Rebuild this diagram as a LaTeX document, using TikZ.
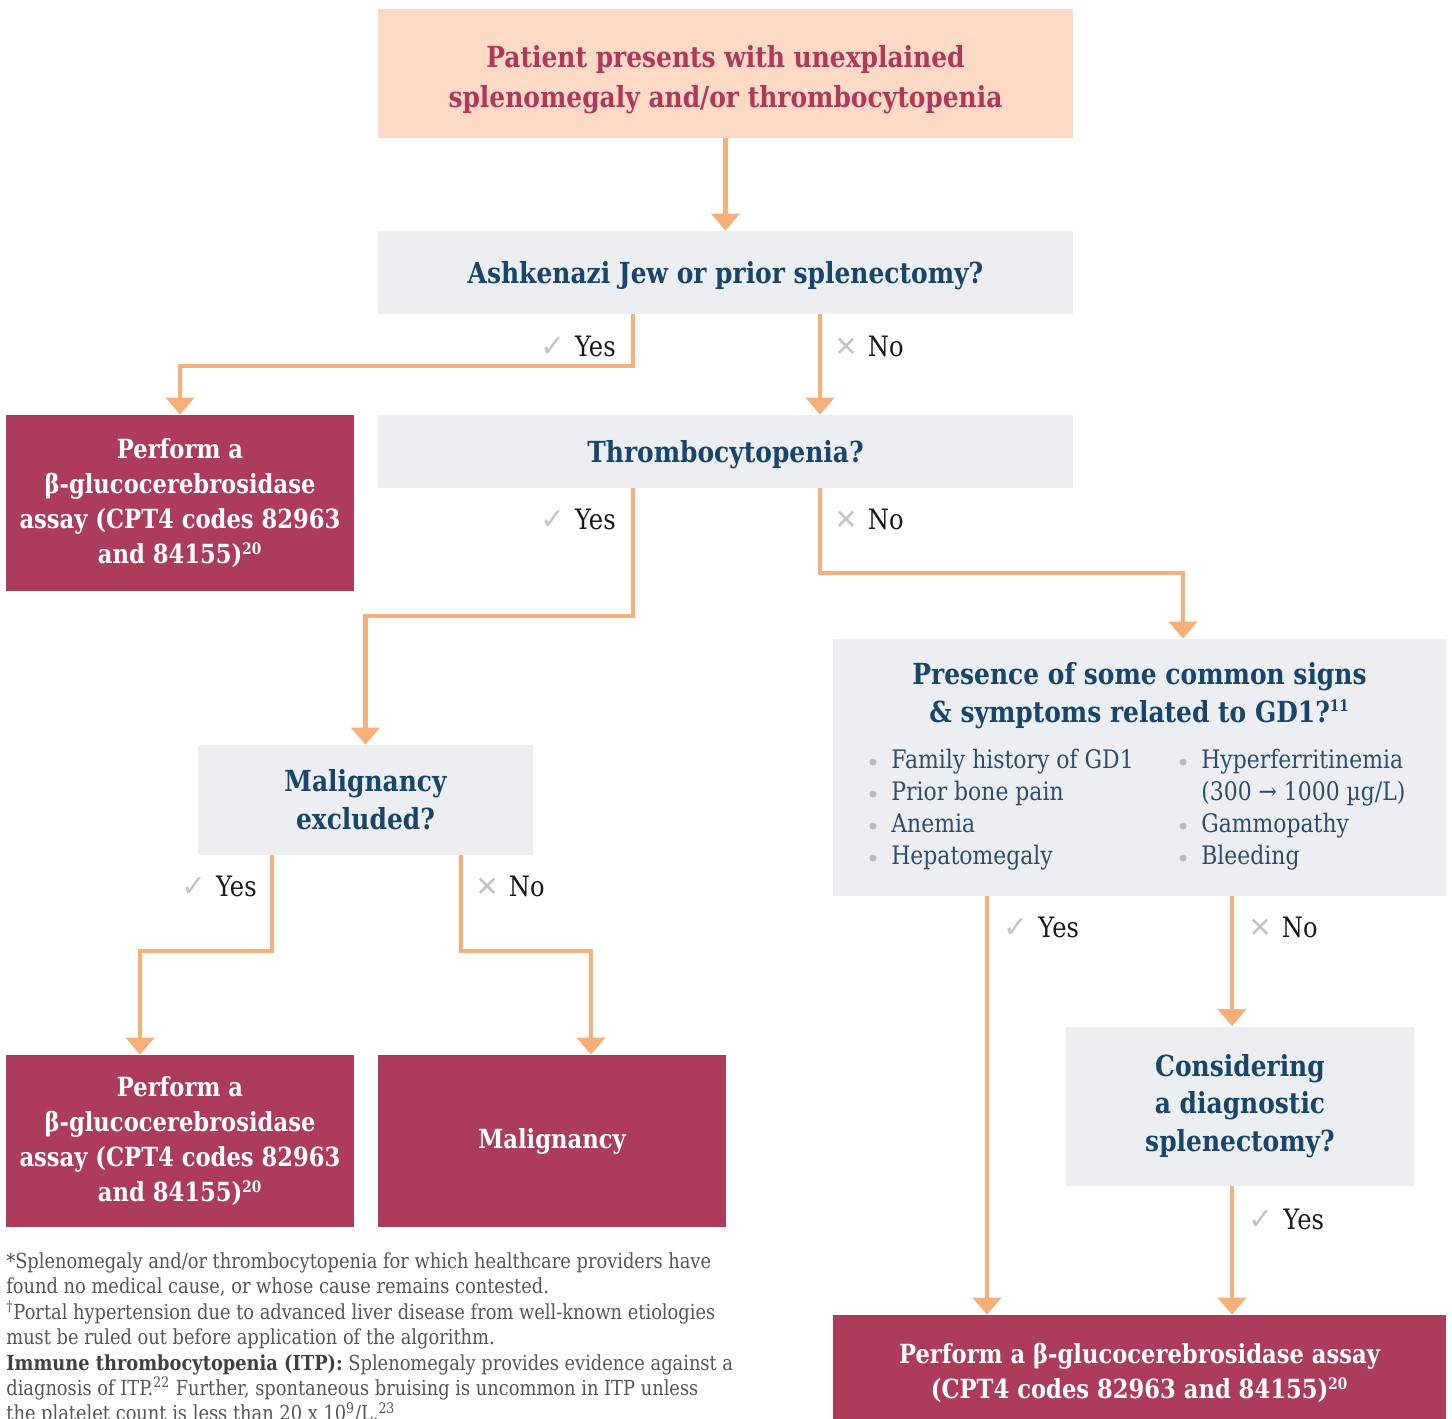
\documentclass[tikz,border=0pt]{standalone}
\usepackage{fontspec}
\setmainfont[FakeStretch=0.86]{DejaVu Serif}
\newfontfamily\symf{DejaVu Sans}
\usetikzlibrary{arrows.meta,positioning,calc}
\definecolor{peach}{HTML}{FCDAC6}
\definecolor{crimson}{HTML}{B0395B}
\definecolor{qgray}{HTML}{ECEEF2}
\definecolor{qblue}{HTML}{17466A}
\definecolor{listblue}{HTML}{2E4D6B}
\definecolor{rred}{HTML}{AD3B5C}
\definecolor{arrowc}{HTML}{F8B07A}
\definecolor{markgray}{HTML}{C4C4C4}
\definecolor{bulletc}{HTML}{B3B9C6}
\definecolor{footgray}{HTML}{555555}
\tikzset{
  flow/.style={draw=arrowc, line width=2.8pt, -{Triangle[width=0.56cm,length=0.34cm]}},
  box/.style={inner sep=0pt, align=center, draw=none},
  qbox/.style={box, fill=qgray, text=qblue, font=\fontsize{16.5}{21.5}\selectfont\bfseries},
  rbox/.style={box, fill=rred, text=white, font=\fontsize{15}{20}\selectfont\bfseries},
  ans/.style={inner sep=0pt, text=black!90, font=\fontsize{16}{19}\selectfont},
  item/.style={inner sep=0pt, text=listblue, font=\fontsize{14.5}{18}\selectfont},
  foot/.style={inner sep=0pt, align=left, text=footgray, font=\fontsize{11.8}{14.5}\selectfont},
}
\newcommand{\yesmark}{{\symf\color{markgray}\fontsize{17}{17}\selectfont ✓}\hspace{0.2cm}Yes}
\newcommand{\nomark}{{\symf\color{markgray}\fontsize{16}{16}\selectfont ✕}\hspace{0.2cm}No}
\newcommand{\sups}[1]{\textsuperscript{\fontsize{9}{9}\selectfont #1}}
\begin{document}
\begin{tikzpicture}[x=0.02cm,y=-0.02cm]
    \useasboundingbox (0,0) rectangle (1452,1418);
    \clip (0,0) rectangle (1452,1418);
    % Question boxes
    \node[box, fill=peach, text=crimson, font=\fontsize{16.5}{22.5}\selectfont\bfseries,
          minimum width=13.9cm, minimum height=2.58cm] (start) at (725.5,73.5)
          {\rule{0pt}{0.68cm}Patient presents with unexplained\\splenomegaly and/or thrombocytopenia};
    \node[qbox, minimum width=13.9cm, minimum height=1.66cm] (ashk) at (725.5,272.5)
          {\rule{0pt}{0.56cm}Ashkenazi Jew or prior splenectomy?};
    \node[qbox, minimum width=13.9cm, minimum height=1.46cm] (thrombo) at (725.5,451.5)
          {\rule{0pt}{0.56cm}Thrombocytopenia?};
    \node[qbox, minimum width=6.7cm, minimum height=2.2cm] (malig) at (365.5,800)
          {Malignancy\\excluded?};
    \node[qbox, minimum width=12.26cm, minimum height=5.14cm] (signs) at (1139.5,767.5) {};
    \node[box, text=qblue, font=\fontsize{16.5}{21.5}\selectfont\bfseries] (signstitle) at (1139.5,696)
          {Presence of some common signs\\\& symptoms related to GD1?\sups{11}};
    \node[qbox, minimum width=6.96cm, minimum height=3.18cm] (consid) at (1240,1106)
          {Considering\\a diagnostic\\splenectomy?};
    % Result boxes
    \node[rbox, minimum width=6.96cm, minimum height=3.52cm] (assay1) at (180,503)
          {Perform a\\β-glucocerebrosidase\\assay (CPT4 codes 82963\\and 84155)\sups{20}};
    \node[rbox, minimum width=6.96cm, minimum height=3.44cm] (assay2) at (180,1141)
          {Perform a\\β-glucocerebrosidase\\assay (CPT4 codes 82963\\and 84155)\sups{20}};
    \node[rbox, minimum width=6.96cm, minimum height=3.44cm] (maligres) at (552,1141)
          {Malignancy};
    \node[rbox, minimum width=12.26cm, minimum height=2.3cm] (assay3) at (1139.5,1372.5)
          {Perform a β-glucocerebrosidase assay\\(CPT4 codes 82963 and 84155)\sups{20}};
    % Signs and symptoms list
    \foreach \txt [count=\i] in {Family history of GD1, Prior bone pain, Anemia, Hepatomegaly} {
        \fill[bulletc] (873,{730+32*\i}) circle (2pt);
        \node[item, anchor=base west] (left\i) at (891,{736+32*\i}) {\txt};
    }
    \foreach \txt/\dot [count=\i] in {{Hyperferritinemia}/1, {(300 → 1000 µg/L)}/0, {Gammopathy}/1, {Bleeding}/1} {
        \ifnum\dot=1 \fill[bulletc] (1183,{730+32*\i}) circle (2pt); \fi
        \node[item, anchor=base west] (right\i) at (1201,{736+32*\i}) {\txt};
    }
    % Connectors
    \draw[flow] (start) -- (ashk);
    \draw[flow] (ashk.south -| 633,0) -- (633,366) -| (assay1.north);
    \draw[flow] (ashk.south -| 820,0) -- (thrombo.north -| 820,0);
    \draw[flow] (thrombo.south -| 633,0) -- (633,616) -| (malig.north);
    \draw[flow] (thrombo.south -| 820,0) -- (820,573) -| (signs.north -| 1183,0);
    \draw[flow] (malig.south -| 272,0) -- (272,951) -| (assay2.north -| 140,0);
    \draw[flow] (malig.south -| 461,0) -- (461,951) -| (maligres.north -| 591,0);
    \draw[flow] (signs.south -| 987,0) -- (assay3.north -| 987,0);
    \draw[flow] (signs.south -| 1232,0) -- (consid.north -| 1232,0);
    \draw[flow] (consid.south -| 1232,0) -- (assay3.north -| 1232,0);
    % Answer labels
    \node[ans, anchor=east] (ashkyes) at (616,346) {\yesmark};
    \node[ans, anchor=west] (ashkno) at (834,346) {\nomark};
    \node[ans, anchor=east] (thryes) at (616,519) {\yesmark};
    \node[ans, anchor=west] (thrno) at (834,519) {\nomark};
    \node[ans, anchor=east] (malyes) at (257,886) {\yesmark};
    \node[ans, anchor=west] (malno) at (475,886) {\nomark};
    \node[ans, anchor=west] (signyes) at (1003,927) {\yesmark};
    \node[ans, anchor=west] (signno) at (1248,927) {\nomark};
    \node[ans, anchor=west] (consyes) at (1248,1219) {\yesmark};
    % Footnotes
    \node[foot, anchor=north west] (note) at (6,1252)
          {*Splenomegaly and/or thrombocytopenia for which healthcare providers have\\
           found no medical cause, or whose cause remains contested.\\
           \textsuperscript{†}Portal hypertension due to advanced liver disease from well-known etiologies\\
           must be ruled out before application of the algorithm.\\
           {\bfseries\color{black!75}Immune thrombocytopenia (ITP):} Splenomegaly provides evidence against a\\
           diagnosis of ITP.\textsuperscript{22} Further, spontaneous bruising is uncommon in ITP unless\\
           the platelet count is less than 20 x 10\textsuperscript{9}/L.\textsuperscript{23}};
\end{tikzpicture}
\end{document}
